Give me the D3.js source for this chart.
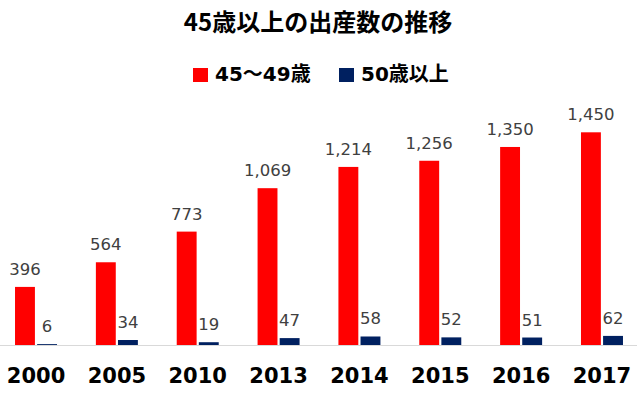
<!DOCTYPE html>
<html>
<head>
<meta charset="utf-8">
<script src="https://cdn.jsdelivr.net/npm/d3@7"></script>
<style>
    body { margin: 0; background: #fff; }
    svg { display: block; }
</style>
</head>
<body>
<script>
(function () {
    "use strict";

    // chart data
    var years = ["2000", "2005", "2010", "2013", "2014", "2015", "2016", "2017"];
    var age45to49 = [396, 564, 773, 1069, 1214, 1256, 1350, 1450];
    var age50plus = [6, 34, 19, 47, 58, 52, 51, 62];
    var seriesNames = ["45～49歳", "50歳以上"];
    var seriesColors = ["#ff0000", "#002060"];

    var width = 637, height = 397;
    var font = "'Noto Sans CJK JP', 'Noto Sans', sans-serif";
    // wider latin digits, CJK falls back to Noto
    var mixedFont = "'DejaVu Sans', 'Noto Sans CJK JP', sans-serif";

    var svg = d3.select("body").append("svg")
        .attr("width", width)
        .attr("height", height);

    // scales
    var x = d3.scaleBand()
        .domain(years)
        .range([-4.4, 642.4]);

    var inner = d3.scaleBand()
        .domain([0, 1])
        .range([-21, 21])
        .paddingInner(0.1);

    var y = d3.scaleLinear()
        .domain([0, 1600])
        .range([345, 110.3]);

    // title
    svg.append("text")
        .attr("x", 318)
        .attr("y", 31)
        .attr("text-anchor", "middle")
        .attr("font-family", font)
        .attr("font-weight", "bold")
        .attr("font-size", "24px")
        .attr("fill", "#000")
        .text("45歳以上の出産数の推移");

    // legend
    var legendX = [193, 339];
    var legend = svg.append("g").selectAll("g")
        .data(seriesNames)
        .join("g")
        .attr("transform", function (d, i) { return "translate(" + legendX[i] + ",68)"; });

    legend.append("rect")
        .attr("width", 15)
        .attr("height", 14)
        .attr("fill", function (d, i) { return seriesColors[i]; });

    legend.append("text")
        .attr("x", 22)
        .attr("y", 13)
        .attr("font-family", mixedFont)
        .attr("font-weight", "bold")
        .attr("font-size", "20px")
        .attr("fill", "#000")
        .text(function (d) { return d; });

    // axis line
    svg.append("line")
        .attr("x1", 0)
        .attr("x2", width)
        .attr("y1", y(0) + 0.5)
        .attr("y2", y(0) + 0.5)
        .attr("stroke", "#d9d9d9")
        .attr("stroke-width", 1);

    // bars
    var rows = years.map(function (yr, i) {
        return {year: yr, values: [age45to49[i], age50plus[i]]};
    });

    var groups = svg.append("g").selectAll("g")
        .data(rows)
        .join("g")
        .attr("transform", function (d) {
            return "translate(" + (x(d.year) + x.bandwidth() / 2) + ",0)";
        });

    groups.selectAll("rect")
        .data(function (d) { return d.values; })
        .join("rect")
        .attr("x", function (d, i) { return inner(i); })
        .attr("width", inner.bandwidth())
        .attr("y", function (d) { return y(d); })
        .attr("height", function (d) { return y(0) - y(d); })
        .attr("fill", function (d, i) { return seriesColors[i]; });

    groups.selectAll("text.value")
        .data(function (d) { return d.values; })
        .join("text")
        .attr("class", "value")
        .attr("x", function (d, i) { return inner(i) + inner.bandwidth() / 2; })
        .attr("y", function (d) { return y(d) - 12; })
        .attr("text-anchor", "middle")
        .attr("font-family", mixedFont)
        .attr("font-size", "16.5px")
        .attr("fill", "#404040")
        .text(function (d) { return d3.format(",")(d); });

    // x axis labels
    groups.append("text")
        .attr("y", 383)
        .attr("text-anchor", "middle")
        .attr("font-family", mixedFont)
        .attr("font-weight", "bold")
        .attr("font-size", "21px")
        .attr("fill", "#000")
        .text(function (d) { return d.year; });
})();
</script>
</body>
</html>
